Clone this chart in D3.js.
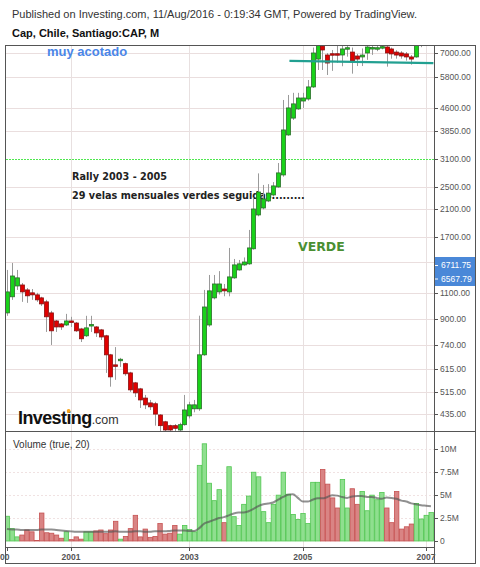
<!DOCTYPE html>
<html><head><meta charset="utf-8">
<script src="https://cdn.jsdelivr.net/npm/d3@7"></script>
<style>
html,body{margin:0;padding:0;background:#fff;}
svg{display:block;font-family:"Liberation Sans",Arial,sans-serif;}
</style></head>
<body><svg id="c" width="480" height="567"></svg>
<script>
// ---- data (monthly bars, CAP Santiago) ----
const opens  = [946,1071,1164,1173,1129,1104,1087,1062,1030,946,889,869,862,889,875,836,793,862,849,830,793,685,634,655,640,596,552,527,491,473,470,431,409,397,397,384,400,428,452,452,685,862,1062,1112,1137,1112,1239,1317,1369,1380,1550,2011,2122,2240,2346,2495,2737,3724,4240,4550,4836,4912,5390,6680,7380,6893,6960,6960,6893,7250,7050,6840,6790,7000,7270,7280,7330,7330,7220,7050,7000,6950,6790,6790,7800,8000,8500];
const highs  = [1317,1390,1317,1191,1146,1137,1104,1071,1046,961,896,875,939,918,882,843,925,925,855,836,799,690,727,669,645,601,556,531,503,484,477,434,412,400,402,406,503,477,484,926,1129,1267,1267,1305,1182,1560,1433,1422,1450,1792,2300,2770,2534,2550,2590,3000,4875,5066,5150,5150,5150,5686,7300,8000,7600,7000,7164,7444,7444,7444,7300,6950,7250,7444,7444,7400,7444,7444,7300,7150,7100,7050,6890,7800,8200,8800,9000];
const lows   = [925,1046,1129,1030,1022,1046,1030,998,817,739,817,830,855,849,817,756,786,817,786,768,596,536,565,624,583,515,495,455,451,448,397,378,372,370,380,378,397,420,440,445,680,850,1050,1090,1075,1075,1230,1310,1360,1370,1540,1990,2100,2220,2320,2480,2700,3700,4180,4520,4585,4850,5350,6141,6141,5909,6100,6490,6320,6805,5970,6330,6330,6640,6900,7100,7200,6300,6700,6700,6700,6600,6400,6750,7320,7700,7900];
const closes = [1112,1257,1239,1112,1079,1087,1046,1014,918,824,849,849,889,882,824,775,843,865,811,786,685,578,629,662,592,523,511,484,466,459,434,397,384,384,389,400,448,466,466,685,990,1121,1182,1182,1121,1248,1369,1380,1400,1560,2106,2400,2275,2380,2515,2780,3870,4585,4730,4950,4950,5390,7000,7600,7164,6480,6930,6930,7220,7290,6580,6680,6890,7330,7300,7290,7350,7000,6950,6890,6840,6790,6680,7600,8000,8500,8700];
// volume in millions
const volumes = [2.7,1.35,0.45,0.65,1.2,1.0,0.05,3.05,0.9,0.85,0.65,0.3,1.0,0.15,0.45,0.2,1.0,1.0,1.1,1.2,0.8,1.2,2.15,0.2,0.5,1.35,2.8,0.45,1.3,0.4,0.5,1.9,0.75,0.85,1.7,0.75,1.7,1.25,1.0,8.25,10.6,6.3,4.4,5.6,2.0,8.1,2.65,1.7,4.0,4.9,7.5,7.0,3.2,2.0,4.0,5.0,7.5,5.1,2.9,2.35,3.0,1.9,6.4,6.4,7.8,6.2,4.7,3.6,6.7,3.6,5.7,4.0,5.4,3.3,5.0,4.5,5.3,3.6,2.0,5.4,1.3,1.55,1.85,4.1,2.4,2.8,3.1];
const volumeMA = [1.3,1.25,1.25,1.2,1.2,1.2,1.2,1.25,1.25,1.25,1.2,1.15,1.1,1.05,1.0,1.0,1.0,1.0,1.0,1.0,1.0,1.0,1.05,1.0,1.0,1.0,1.05,1.05,1.0,1.0,1.05,1.05,1.05,1.1,1.15,1.15,1.15,1.1,1.1,1.4,1.9,2.1,2.3,2.5,2.6,2.8,3.0,3.1,3.1,3.25,3.5,3.8,4.0,4.1,4.2,4.5,4.8,5.05,5.1,4.7,4.3,4.3,4.5,4.65,4.65,4.8,5.0,4.95,4.8,4.7,4.85,4.9,4.9,4.8,4.8,4.7,4.6,4.75,4.7,4.6,4.4,4.3,4.1,4.0,3.9,3.85,3.8];
const priceGrid = [7000,5800,4600,3850,3100,2500,2100,1700,1400,1100,900,740,615,515,435];
const priceTicks = [7000,5800,4600,3850,3100,2500,2100,1700,1100,900,740,615,515,435];
const volumeTicks = [0,2.5,5,7.5,10];
const volumeTickLabels = ["0","2.5M","5M","7.5M","10M"];
const yearLabels = ["2000","2001","2003","2005","2007"];
const yearBarIndex = [0,13,37,60,85];
const lastLabels = ["6711.75","6567.79"];
const supportLine = [{i:57.3,p:6590},{i:86.5,p:6470}];
const rallyLevel = 3100;

// ---- layout ----
const svg = d3.select("#c");
const L = 5, R = 434, T = 45, PB = 431, VB = 547, FR = 475, FB = 563;
const N = opens.length;
const x = d3.scaleBand().domain(d3.range(N)).range([4.5, 433.4]);
const cx = i => x(i) + x.bandwidth()/2;
const xi = d3.scaleLinear().domain([0, N-1]).range([cx(0), cx(N-1)]);
const y = d3.scaleLog().domain([381, 7444]).range([PB, T]);
const yv = d3.scaleLinear().domain([0, 10]).range([541, 449.3]);

const defs = svg.append("defs");
defs.append("clipPath").attr("id","cp").append("rect").attr("x",L).attr("y",T).attr("width",R-L).attr("height",PB-T);
defs.append("clipPath").attr("id","cv").append("rect").attr("x",L).attr("y",PB).attr("width",R-L).attr("height",VB-PB);

// header texts
svg.append("text").attr("x",12).attr("y",18).attr("font-size",11).attr("fill","#333")
  .text("Published on Investing.com, 11/Aug/2016 - 0:19:34 GMT, Powered by TradingView.");
svg.append("text").attr("x",12).attr("y",37).attr("font-size",11).attr("font-weight","bold").attr("fill","#111")
  .text("Cap, Chile, Santiago:CAP, M");

// grid
const grid = svg.append("g");
grid.append("g").selectAll("line").data(priceGrid.filter(d=>d!==rallyLevel)).join("line")
  .attr("x1",L).attr("x2",R).attr("y1",d=>Math.round(y(d))+0.5).attr("y2",d=>Math.round(y(d))+0.5)
  .attr("stroke","#eadede").attr("stroke-width",1);
grid.append("g").selectAll("line").data(volumeTicks.slice(1)).join("line")
  .attr("x1",L).attr("x2",R).attr("y1",d=>Math.round(yv(d))+0.5).attr("y2",d=>Math.round(yv(d))+0.5)
  .attr("stroke","#f0e2e2").attr("stroke-dasharray","2,2");
grid.append("g").selectAll("line").data(yearBarIndex.slice(1)).join("line")
  .attr("x1",d=>Math.round(xi(d))+0.5).attr("x2",d=>Math.round(xi(d))+0.5).attr("y1",T).attr("y2",VB)
  .attr("stroke","#e8e0e0");

// rally level line (light green dotted)
svg.append("line").attr("x1",L+1).attr("x2",R).attr("y1",Math.round(y(rallyLevel))+0.5).attr("y2",Math.round(y(rallyLevel))+0.5)
  .attr("stroke","#4fe84f").attr("stroke-dasharray","2,1").attr("stroke-width",1);

// annotations (behind candles)
svg.append("text").attr("x",47).attr("y",56).attr("font-weight","bold").attr("font-size",13)
  .attr("fill","#4a86e8").text("muy acotado");
svg.append("text").attr("x",72).attr("y",180).attr("font-family","DejaVu Sans").attr("font-weight","bold").attr("font-size",9.7)
  .attr("fill","#222").text("Rally 2003 - 2005");
svg.append("text").attr("x",72).attr("y",199).attr("font-family","DejaVu Sans").attr("font-weight","bold").attr("font-size",9.7)
  .attr("fill","#222").text("29 velas mensuales verdes seguidas.........");
svg.append("text").attr("x",298).attr("y",251).attr("font-family","DejaVu Sans").attr("font-weight","bold").attr("font-size",12.5)
  .attr("fill","#4a8f32").text("VERDE");

// Investing logo
const logo = svg.append("text").attr("x",18).attr("y",424).attr("fill","#111");
logo.append("tspan").attr("font-size",18).attr("font-weight","bold").attr("letter-spacing",-0.6).text("Investing");
logo.append("tspan").attr("font-size",12.5).attr("fill","#333").text(".com");
const meas = svg.append("text").attr("x",18).attr("y",424).attr("font-size",18).attr("font-weight","bold")
  .attr("letter-spacing",-0.6).attr("visibility","hidden").text("Invest");
const iw = meas.node().getComputedTextLength();
meas.remove();
svg.append("circle").attr("cx",18+iw+2.2).attr("cy",411).attr("r",1.9).attr("fill","#f5a21c");

// candles
const cg = svg.append("g").attr("clip-path","url(#cp)");
const idx = d3.range(N);
cg.selectAll("line").data(idx).join("line")
  .attr("x1",i=>Math.round(cx(i))+0.5).attr("x2",i=>Math.round(cx(i))+0.5)
  .attr("y1",i=>y(highs[i])).attr("y2",i=>y(lows[i]))
  .attr("stroke","#9a9a9a").attr("stroke-width",1);
cg.selectAll("rect").data(idx).join("rect")
  .attr("x",i=>Math.round(cx(i))-1.5).attr("width",4)
  .attr("y",i=>y(Math.max(opens[i],closes[i])))
  .attr("height",i=>Math.max(1.5, Math.abs(y(opens[i])-y(closes[i]))))
  .attr("fill",i=>closes[i]>=opens[i]?"#19d219":"#e00000")
  .attr("stroke",i=>closes[i]>=opens[i]?"#2a6e2a":"#8a1010").attr("stroke-width",0.8);

// support line
svg.append("line").attr("x1",xi(supportLine[0].i)).attr("x2",xi(supportLine[1].i))
  .attr("y1",y(supportLine[0].p)).attr("y2",y(supportLine[1].p))
  .attr("stroke","#22a091").attr("stroke-width",2.2);

// volume
const vg = svg.append("g").attr("clip-path","url(#cv)");
svg.append("text").attr("x",13).attr("y",448).attr("font-size",10).attr("fill","#333").text("Volume (true, 20)");
vg.selectAll("rect").data(idx).join("rect")
  .attr("x",i=>x(i)+0.5).attr("width",x.bandwidth()-0.5)
  .attr("y",i=>yv(volumes[i])).attr("height",i=>yv(0)-yv(volumes[i]))
  .attr("fill",i=>closes[i]>=opens[i]?"#8fdf8f":"#d98484")
  .attr("stroke",i=>closes[i]>=opens[i]?"#52c652":"#c65252").attr("stroke-width",0.8);
vg.append("path").datum(idx)
  .attr("d",d3.line().x(i=>cx(i)).y(i=>yv(volumeMA[i])).curve(d3.curveMonotoneX))
  .attr("fill","none").attr("stroke","#555").attr("stroke-opacity",0.65).attr("stroke-width",2);

// frame & axes lines
svg.append("rect").attr("x",L+0.5).attr("y",T+0.5).attr("width",FR-L).attr("height",FB-T)
  .attr("fill","none").attr("stroke","#555");
svg.append("line").attr("x1",R+0.5).attr("x2",R+0.5).attr("y1",T).attr("y2",FB).attr("stroke","#555");
svg.append("line").attr("x1",L).attr("x2",FR).attr("y1",PB+0.5).attr("y2",PB+0.5).attr("stroke","#555");
svg.append("line").attr("x1",L).attr("x2",R).attr("y1",VB+0.5).attr("y2",VB+0.5).attr("stroke","#555");

// price axis
const pa = svg.append("g");
pa.selectAll("line").data(priceTicks).join("line")
  .attr("x1",R).attr("x2",R+4).attr("y1",d=>Math.round(y(d))+0.5).attr("y2",d=>Math.round(y(d))+0.5).attr("stroke","#555");
pa.selectAll("text").data(priceTicks).join("text")
  .attr("x",440).attr("y",d=>y(d)+3).attr("font-size",8.5).attr("fill","#555")
  .text(d=>d3.format(".2f")(d));
// last value labels
const lb = svg.append("g");
lb.append("rect").attr("x",R+1).attr("y",257).attr("width",FR-R-1).attr("height",29).attr("fill","#4a88d8");
lb.selectAll("text").data(lastLabels).join("text")
  .attr("x",441).attr("y",(d,i)=>268+i*13.5).attr("font-size",8.5).attr("fill","#fff").text(d=>d);
lb.selectAll("line").data(lastLabels).join("line")
  .attr("x1",R+1).attr("x2",R+4).attr("y1",(d,i)=>265.5+i*13.5).attr("y2",(d,i)=>265.5+i*13.5).attr("stroke","#fff");

// volume axis
const va = svg.append("g");
va.selectAll("line").data(volumeTicks).join("line")
  .attr("x1",R).attr("x2",R+4).attr("y1",d=>Math.round(yv(d))+0.5).attr("y2",d=>Math.round(yv(d))+0.5).attr("stroke","#555");
va.selectAll("text").data(volumeTickLabels).join("text")
  .attr("x",440).attr("y",(d,i)=>yv(volumeTicks[i])+3).attr("font-size",8.5).attr("fill","#555").text(d=>d);

// time axis
const ta = svg.append("g");
ta.selectAll("line").data(yearBarIndex).join("line")
  .attr("x1",d=>Math.round(xi(d))+0.5).attr("x2",d=>Math.round(xi(d))+0.5).attr("y1",VB).attr("y2",VB+4).attr("stroke","#555");
ta.selectAll("text").data(yearLabels).join("text")
  .attr("x",(d,i)=>i===0 ? xi(yearBarIndex[i])-7 : xi(yearBarIndex[i])).attr("y",560).attr("text-anchor","middle")
  .attr("font-size",8.5).attr("font-weight","bold").attr("fill","#555").text(d=>d);
</script></body></html>
